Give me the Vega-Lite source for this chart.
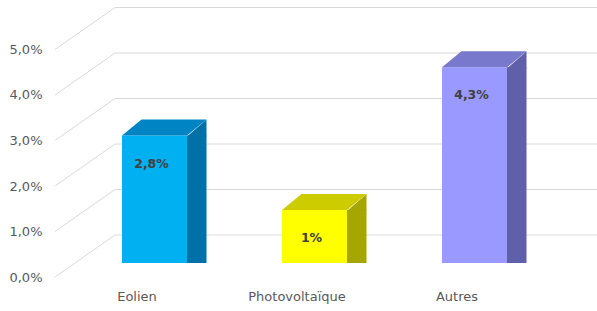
{
  "$schema": "https://vega.github.io/schema/vega-lite/v6.json",
  "width": 597,
  "height": 311,
  "autosize": "none",
  "padding": 0,
  "background": "white",
  "config": {"view": {"stroke": null}, "text": {"font": "DejaVu Sans"},
    "axisX": {"title": null, "domain": false, "ticks": false, "grid": false, "labelPadding": 0, "offset": -21, "labelOffset": -17.5, "labelFontSize": 13, "labelColor": "#595959", "labelAngle": 0, "labelFont": "DejaVu Sans"},
    "axisY": {"title": null, "domain": false, "ticks": false, "grid": false, "labelPadding": 0, "offset": -42, "labelOffset": 14, "labelFontSize": 13, "labelColor": "#595959", "labelFont": "DejaVu Sans"}},
  "datasets": {
    "bars": [
      {"source": "Eolien", "share": 0.028, "label": "2,8%"},
      {"source": "Photovoltaïque", "share": 0.01165, "label": "1%"},
      {"source": "Autres", "share": 0.043, "label": "4,3%"}
    ],
    "ticks": [{"tick": 0}, {"tick": 0.01}, {"tick": 0.02}, {"tick": 0.03}, {"tick": 0.04}, {"tick": 0.05}]
  },
  "resolve": {"scale": {"color": "independent"}},
  "layer": [
    {
      "data": {"name": "ticks"},
      "mark": {"type": "rule", "color": "#D9D9D9", "strokeWidth": 1, "xOffset": -7, "x2Offset": 90, "yOffset": -28, "y2Offset": -28},
      "encoding": {
        "x": {"datum": "Eolien", "type": "nominal", "bandPosition": 0, "title": null, "scale": {"domain": ["Eolien", "Photovoltaïque", "Autres"], "paddingInner": 0.59375, "paddingOuter": 0.6625, "align": 0.5755}},
        "x2": {"datum": "Autres", "bandPosition": 1},
        "y": {"field": "tick", "type": "quantitative", "title": null, "scale": {"domain": [-0.010549, 0.057802], "nice": false, "zero": false},
          "axis": {"values": [0, 0.01, 0.02, 0.03, 0.04, 0.05], "labelExpr": "replace(format(datum.value, '.1%'), '.', ',')"}},
        "y2": {"field": "tick"}
      }
    },
    {
      "data": {"name": "ticks"},
      "mark": {"type": "rule", "color": "#D9D9D9", "strokeWidth": 1, "xOffset": -67, "x2Offset": -7, "yOffset": 14, "y2Offset": -28},
      "encoding": {
        "x": {"datum": "Eolien", "type": "nominal", "bandPosition": 0, "title": null, "scale": {"domain": ["Eolien", "Photovoltaïque", "Autres"], "paddingInner": 0.59375, "paddingOuter": 0.6625, "align": 0.5755}},
        "x2": {"datum": "Eolien", "bandPosition": 0},
        "y": {"field": "tick", "type": "quantitative", "title": null, "scale": {"domain": [-0.010549, 0.057802], "nice": false, "zero": false}},
        "y2": {"field": "tick"}
      }
    },
    {
      "data": {"name": "bars"},
      "mark": {"type": "bar", "width": 19.5, "xOffset": 42.25, "y2Offset": -16},
      "encoding": {
        "x": {"field": "source", "type": "nominal", "title": null, "scale": {"domain": ["Eolien", "Photovoltaïque", "Autres"], "paddingInner": 0.59375, "paddingOuter": 0.6625, "align": 0.5755}},
        "y": {"field": "share", "type": "quantitative", "title": null, "stack": null, "scale": {"domain": [-0.010549, 0.057802], "nice": false, "zero": false}},
        "color": {"field": "source", "type": "nominal", "scale": {"domain": ["Eolien", "Photovoltaïque", "Autres"], "range": ["#0070A8", "#A6A600", "#6060AA"]}, "legend": null}
      }
    },
    {
      "data": {"name": "bars"},
      "mark": {"type": "point", "shape": "M3.25,0.1L5.2,-1.6L5.2,0.1Z", "size": 400, "filled": true, "opacity": 1, "strokeWidth": 0},
      "encoding": {
        "x": {"field": "source", "type": "nominal", "title": null, "scale": {"domain": ["Eolien", "Photovoltaïque", "Autres"], "paddingInner": 0.59375, "paddingOuter": 0.6625, "align": 0.5755}},
        "y": {"field": "share", "type": "quantitative", "title": null, "scale": {"domain": [-0.010549, 0.057802], "nice": false, "zero": false}},
        "color": {"field": "source", "type": "nominal", "scale": {"domain": ["Eolien", "Photovoltaïque", "Autres"], "range": ["#0070A8", "#A6A600", "#6060AA"]}, "legend": null}
      }
    },
    {
      "data": {"name": "bars"},
      "mark": {"type": "point", "shape": "M3.25,-1.7L5.2,-1.7L3.25,0Z", "size": 400, "filled": true, "opacity": 1, "strokeWidth": 0},
      "encoding": {
        "x": {"field": "source", "type": "nominal", "title": null, "scale": {"domain": ["Eolien", "Photovoltaïque", "Autres"], "paddingInner": 0.59375, "paddingOuter": 0.6625, "align": 0.5755}},
        "y": {"datum": 0, "type": "quantitative", "title": null, "scale": {"domain": [-0.010549, 0.057802], "nice": false, "zero": false}},
        "color": {"field": "source", "type": "nominal", "scale": {"domain": ["Eolien", "Photovoltaïque", "Autres"], "range": ["#0070A8", "#A6A600", "#6060AA"]}, "legend": null}
      }
    },
    {
      "data": {"name": "bars"},
      "mark": {"type": "bar"},
      "encoding": {
        "x": {"field": "source", "type": "nominal", "title": null, "scale": {"domain": ["Eolien", "Photovoltaïque", "Autres"], "paddingInner": 0.59375, "paddingOuter": 0.6625, "align": 0.5755}},
        "y": {"field": "share", "type": "quantitative", "title": null, "stack": null, "scale": {"domain": [-0.010549, 0.057802], "nice": false, "zero": false}},
        "color": {"field": "source", "type": "nominal", "scale": {"domain": ["Eolien", "Photovoltaïque", "Autres"], "range": ["#00B0F0", "#FFFF00", "#9999FF"]}, "legend": null}
      }
    },
    {
      "data": {"name": "bars"},
      "mark": {"type": "point", "shape": "M-3.25,0L3.25,0L5.2,-1.6L-1.3,-1.6Z", "size": 400, "filled": true, "opacity": 1, "strokeWidth": 0},
      "encoding": {
        "x": {"field": "source", "type": "nominal", "title": null, "scale": {"domain": ["Eolien", "Photovoltaïque", "Autres"], "paddingInner": 0.59375, "paddingOuter": 0.6625, "align": 0.5755}},
        "y": {"field": "share", "type": "quantitative", "title": null, "scale": {"domain": [-0.010549, 0.057802], "nice": false, "zero": false}},
        "color": {"field": "source", "type": "nominal", "scale": {"domain": ["Eolien", "Photovoltaïque", "Autres"], "range": ["#0084C4", "#CCCC00", "#7878CC"]}, "legend": null}
      }
    },
    {
      "data": {"name": "bars"},
      "mark": {"type": "text", "dy": 28, "dx": -3, "fontWeight": "bold", "fontSize": 12.5, "color": "#404040"},
      "encoding": {
        "x": {"field": "source", "type": "nominal", "title": null, "scale": {"domain": ["Eolien", "Photovoltaïque", "Autres"], "paddingInner": 0.59375, "paddingOuter": 0.6625, "align": 0.5755}},
        "y": {"field": "share", "type": "quantitative", "title": null, "scale": {"domain": [-0.010549, 0.057802], "nice": false, "zero": false}},
        "text": {"field": "label", "type": "nominal"}
      }
    }
  ]
}
